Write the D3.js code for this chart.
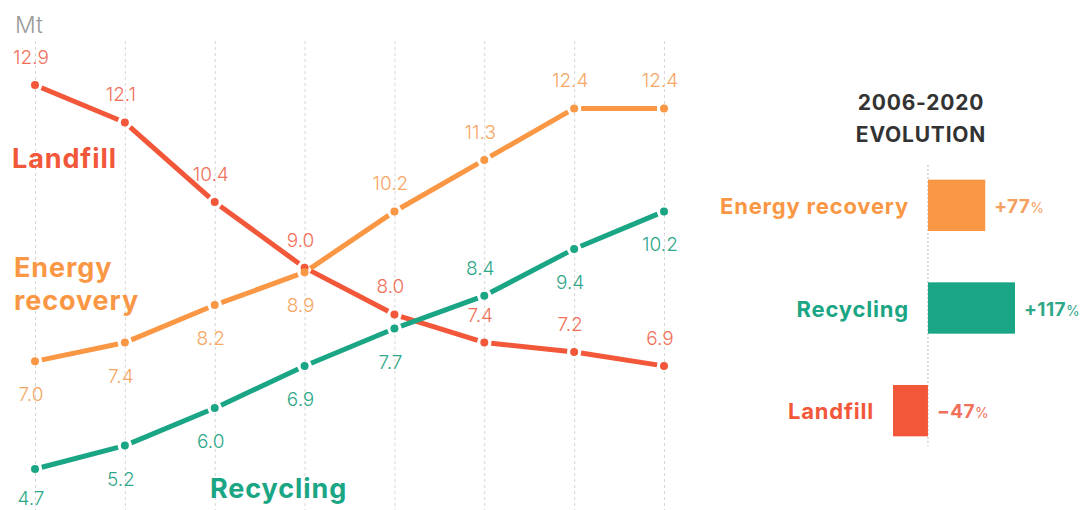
<!DOCTYPE html>
<html lang="en">
<head>
    <meta charset="UTF-8">
    <title>Waste treatment 2006-2020</title>
    <style>
        body {
            margin: 0;
            background: #fff;
            font-family: Inter, "Noto Sans", sans-serif;
        }
        svg text {
            font-family: Inter, "Noto Sans", sans-serif;
        }
    </style>
</head>
<body>
    <div id="chart"></div>

    <script src="https://d3js.org/d3.v7.min.js"></script>
    <script>
        // Data
        const years = [2006, 2008, 2010, 2012, 2014, 2016, 2018, 2020];
        const landfill = [12.9, 12.1, 10.4, 9.0, 8.0, 7.4, 7.2, 6.9];
        const energyRecovery = [7.0, 7.4, 8.2, 8.9, 10.2, 11.3, 12.4, 12.4];
        const recycling = [4.7, 5.2, 6.0, 6.9, 7.7, 8.4, 9.4, 10.2];

        // which side of the point the value label sits on
        const landfillLabelSide = ["up", "up", "up", "up", "up", "up", "up", "up"];
        const energyLabelSide = ["down", "down", "down", "down", "up", "up", "up", "up"];
        const recyclingLabelSide = ["down", "down", "down", "down", "down", "up", "down", "down"];

        const evolutionCategories = ["Energy recovery", "Recycling", "Landfill"];
        const evolutionValues = [77, 117, -47];

        const width = 1086, height = 510;

        const svg = d3.select("#chart")
            .append("svg")
            .attr("width", width)
            .attr("height", height);

        svg.append("rect").attr("width", width).attr("height", height).attr("fill", "#fff");

        // Scales for the line chart
        const x = d3.scaleLinear().domain([2006, 2020]).range([35, 664]);
        const y = d3.scaleLinear().domain([4.7, 12.9]).range([469, 85]);

        // vertical dotted gridlines (the year labels sit below the visible area)
        const axisY = 530;
        const xAxis = svg.append("g")
            .attr("transform", `translate(0,${axisY})`)
            .call(d3.axisBottom(x).tickValues(years).tickSize(-(axisY - 40)));
        xAxis.select(".domain").remove();
        xAxis.selectAll(".tick text").remove();
        xAxis.selectAll(".tick line")
            .attr("stroke", "#d6d6d6")
            .attr("stroke-width", 1)
            .attr("stroke-dasharray", "3,3");

        // unit
        svg.append("text")
            .attr("x", 15)
            .attr("y", 33)
            .attr("fill", "#9a9a9a")
            .style("font-size", "23px")
            .style("font-weight", 300)
            .text("Mt");

        const series = [
            { name: "Landfill", values: landfill, side: landfillLabelSide, color: "#f2573a", labelColor: "#f0705a" },
            { name: "Energy recovery", values: energyRecovery, side: energyLabelSide, color: "#fa9745", labelColor: "#f6a765" },
            { name: "Recycling", values: recycling, side: recyclingLabelSide, color: "#1aa584", labelColor: "#2fa789" }
        ];

        const gap = 7;
        series.forEach(s => {
            const pts = s.values.map((v, i) => [x(years[i]), y(v)]);
            const g = svg.append("g");

            // segments with a small gap around each dot
            d3.pairs(pts).forEach(([a, b]) => {
                const dx = b[0] - a[0], dy = b[1] - a[1];
                const len = Math.sqrt(dx * dx + dy * dy);
                const ux = dx / len, uy = dy / len;
                g.append("line")
                    .attr("x1", a[0] + ux * gap)
                    .attr("y1", a[1] + uy * gap)
                    .attr("x2", b[0] - ux * gap)
                    .attr("y2", b[1] - uy * gap)
                    .attr("stroke", s.color)
                    .attr("stroke-width", 5);
            });

            g.selectAll("circle")
                .data(pts)
                .enter()
                .append("circle")
                .attr("cx", d => d[0])
                .attr("cy", d => d[1])
                .attr("r", 4)
                .attr("fill", s.color);

            g.selectAll(".val")
                .data(s.values)
                .enter()
                .append("text")
                .attr("class", "val")
                .attr("x", (d, i) => x(years[i]) - 4)
                .attr("y", (d, i) => s.side[i] === "up" ? y(d) - 21 : Math.min(y(d) + 40, height - 5))
                .attr("text-anchor", "middle")
                .attr("fill", s.labelColor)
                .style("font-size", "19px")
                .style("font-weight", 300)
                .text(d => d.toFixed(1));
        });

        // series names
        const nameStyle = sel => sel
            .style("font-size", "27px")
            .style("font-weight", 700)
            .style("letter-spacing", "0.9px");

        svg.append("text")
            .attr("x", 12).attr("y", 168)
            .attr("fill", "#f2573a")
            .call(nameStyle)
            .text("Landfill");

        const erLabel = svg.append("text")
            .attr("x", 14).attr("y", 277)
            .attr("fill", "#fa9745")
            .call(nameStyle);
        erLabel.append("tspan").attr("x", 14).text("Energy");
        erLabel.append("tspan").attr("x", 14).attr("dy", 33).text("recovery");

        svg.append("text")
            .attr("x", 210).attr("y", 498)
            .attr("fill", "#1aa584")
            .call(nameStyle)
            .text("Recycling");

        // 2006-2020 evolution panel
        const evoColors = ["#fa9745", "#1aa584", "#f2573a"];
        const evoLabelColors = ["#f6a060", "#2fa789", "#f0705a"];

        const ex = d3.scaleLinear().domain([-47, 117]).range([893, 1015]);
        const ey = d3.scaleBand()
            .domain(evolutionCategories)
            .range([154, 462])
            .paddingInner(0.5)
            .paddingOuter(0.25);

        const title = svg.append("text")
            .attr("x", 921).attr("y", 110)
            .attr("text-anchor", "middle")
            .attr("fill", "#333")
            .style("font-size", "21px").style("font-weight", 700)
            .style("letter-spacing", "0.8px");
        title.append("tspan").attr("x", 921).text("2006-2020");
        title.append("tspan").attr("x", 921).attr("dy", 32).text("EVOLUTION");

        svg.append("line")
            .attr("x1", ex(0)).attr("x2", ex(0))
            .attr("y1", 165).attr("y2", 446)
            .attr("stroke", "#bbb")
            .attr("stroke-width", 1)
            .attr("stroke-dasharray", "2,2");

        const evoData = evolutionCategories.map((c, i) => ({ name: c, value: evolutionValues[i], i }));

        svg.selectAll(".evo-bar")
            .data(evoData)
            .enter()
            .append("rect")
            .attr("class", "evo-bar")
            .attr("x", d => ex(Math.min(0, d.value)))
            .attr("y", d => ey(d.name))
            .attr("width", d => Math.abs(ex(d.value) - ex(0)))
            .attr("height", ey.bandwidth())
            .attr("fill", d => evoColors[d.i]);

        svg.selectAll(".evo-name")
            .data(evoData)
            .enter()
            .append("text")
            .attr("class", "evo-name")
            .attr("x", d => ex(Math.min(0, d.value)) - 19)
            .attr("y", d => ey(d.name) + ey.bandwidth() / 2 + 1)
            .attr("dy", "0.35em")
            .attr("text-anchor", "end")
            .attr("fill", d => evoColors[d.i])
            .style("font-size", "22px").style("font-weight", 700)
            .style("letter-spacing", "0.8px")
            .text(d => d.name);

        const evoVal = svg.selectAll(".evo-val")
            .data(evoData)
            .enter()
            .append("text")
            .attr("class", "evo-val")
            .attr("x", d => ex(Math.max(0, d.value)) + 9)
            .attr("y", d => ey(d.name) + ey.bandwidth() / 2 + 1)
            .attr("dy", "0.35em")
            .attr("fill", d => evoLabelColors[d.i])
            .style("font-size", "19px").style("font-weight", 700)
            .style("letter-spacing", "0.4px");
        evoVal.append("tspan").text(d => (d.value > 0 ? "+" : "\u2212") + Math.abs(d.value));
        evoVal.append("tspan")
            .style("font-size", "14px")
            .style("font-weight", 400)
            .text("%");
    </script>
</body>
</html>
